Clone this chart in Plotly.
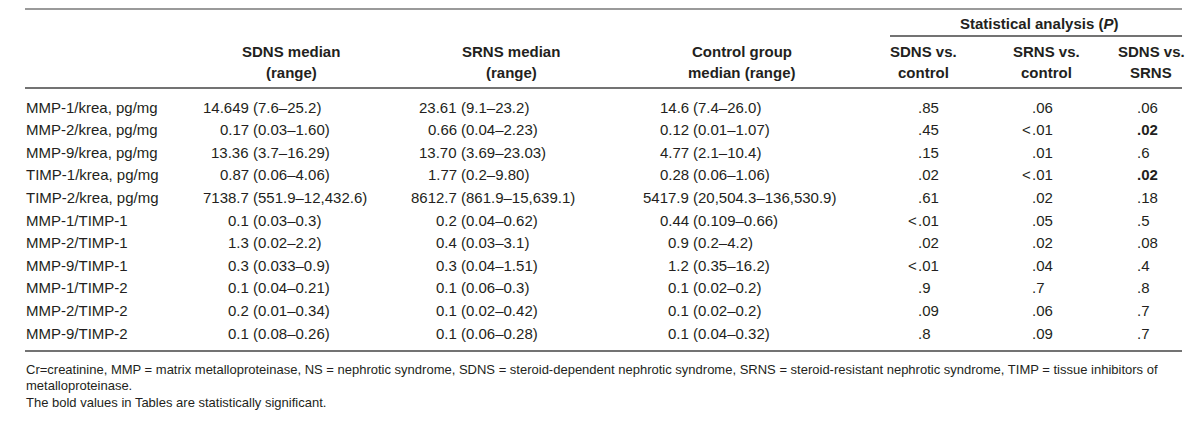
import plotly.graph_objects as go

# ---------------- data ----------------
row_labels = ["MMP-1/krea, pg/mg", "MMP-2/krea, pg/mg", "MMP-9/krea, pg/mg", "TIMP-1/krea, pg/mg",
              "TIMP-2/krea, pg/mg", "MMP-1/TIMP-1", "MMP-2/TIMP-1", "MMP-9/TIMP-1",
              "MMP-1/TIMP-2", "MMP-2/TIMP-2", "MMP-9/TIMP-2"]
sdns_median = ["14.649", "0.17", "13.36", "0.87", "7138.7", "0.1", "1.3", "0.3", "0.1", "0.2", "0.1"]
sdns_range = ["7.6–25.2", "0.03–1.60", "3.7–16.29", "0.06–4.06", "551.9–12,432.6", "0.03–0.3",
              "0.02–2.2", "0.033–0.9", "0.04–0.21", "0.01–0.34", "0.08–0.26"]
srns_median = ["23.61", "0.66", "13.70", "1.77", "8612.7", "0.2", "0.4", "0.3", "0.1", "0.1", "0.1"]
srns_range = ["9.1–23.2", "0.04–2.23", "3.69–23.03", "0.2–9.80", "861.9–15,639.1", "0.04–0.62",
              "0.03–3.1", "0.04–1.51", "0.06–0.3", "0.02–0.42", "0.06–0.28"]
ctrl_median = ["14.6", "0.12", "4.77", "0.28", "5417.9", "0.44", "0.9", "1.2", "0.1", "0.1", "0.1"]
ctrl_range = ["7.4–26.0", "0.01–1.07", "2.1–10.4", "0.06–1.06", "20,504.3–136,530.9", "0.109–0.66",
              "0.2–4.2", "0.35–16.2", "0.02–0.2", "0.02–0.2", "0.04–0.32"]
p_sdns_vs_ctrl = [".85", ".45", ".15", ".02", ".61", "<.01", ".02", "<.01", ".9", ".09", ".8"]
p_srns_vs_ctrl = [".06", "<.01", ".01", "<.01", ".02", ".05", ".02", ".04", ".7", ".06", ".09"]
p_sdns_vs_srns = [".06", ".02", ".6", ".02", ".18", ".5", ".08", ".4", ".8", ".7", ".7"]
p_sdns_vs_srns_bold = [False, True, False, True, False, False, False, False, False, False, False]

header_group = "Statistical analysis (<i>P</i>)"
col_headers = ["SDNS median<br>(range)", "SRNS median<br>(range)", "Control group<br>median (range)",
               "SDNS vs.<br>control", "SRNS vs.<br>control", "SDNS vs.<br>SRNS"]
footnotes = [
    "Cr=creatinine, MMP = matrix metalloproteinase, NS = nephrotic syndrome, SDNS = steroid-dependent "
    "nephrotic syndrome, SRNS = steroid-resistant nephrotic syndrome, TIMP = tissue inhibitors of",
    "metalloproteinase.",
    "The bold values in Tables are statistically significant.",
]

# ---------------- layout constants ----------------
FONT = "Liberation Sans, Arial, sans-serif"
INK = "#231f20"
SIZE = 15
ROW_Y0 = 99
ROW_STEP = 22.6
LABEL_X = 18
MED_COLS = [(241, 245), (449, 453), (681, 685)]   # (median right edge, range left edge)
P_COLS = [910, 1024, 1129]                          # decimal point position
HEAD_X = [283, 503, 734, 915, 1038, 1143]

fig = go.Figure()
fig.update_layout(
    width=1200, height=421,
    margin=dict(l=0, r=0, t=0, b=0),
    paper_bgcolor="white", plot_bgcolor="white",
    xaxis=dict(range=[0, 1200], visible=False, fixedrange=True),
    yaxis=dict(range=[421, 0], visible=False, fixedrange=True),
    showlegend=False,
)


def txt(x, y, s, anchor="left", size=SIZE, bold=False):
    if bold:
        s = "<b>" + s + "</b>"
    fig.add_annotation(x=x, y=y, xref="x", yref="y", text=s, showarrow=False,
                       xanchor=anchor, yanchor="middle", borderpad=0, borderwidth=0,
                       font=dict(family=FONT, size=size, color=INK))


# rules
fig.add_shape(type="line", xref="x", yref="y", x0=17, x1=1174, y0=1, y1=1,
              line=dict(color="#9a9a9a", width=2))
fig.add_shape(type="line", xref="x", yref="y", x0=882, x1=1174, y0=28, y1=28,
              line=dict(color="#444444", width=1.5))
fig.add_shape(type="line", xref="x", yref="y", x0=17, x1=1174, y0=80, y1=80,
              line=dict(color="#444444", width=1.5))
fig.add_shape(type="line", xref="x", yref="y", x0=17, x1=1174, y0=343, y1=343,
              line=dict(color="#444444", width=1.5))

# headers
txt(1031, 15, header_group, anchor="center", bold=True)
for hx, h in zip(HEAD_X, col_headers):
    top, bot = h.split("<br>")
    txt(hx, 43, top, anchor="center", bold=True)
    txt(hx, 64, bot, anchor="center", bold=True)

# body
med_cols = [(sdns_median, sdns_range), (srns_median, srns_range), (ctrl_median, ctrl_range)]
p_cols = [p_sdns_vs_ctrl, p_srns_vs_ctrl, p_sdns_vs_srns]
for i, lab in enumerate(row_labels):
    y = ROW_Y0 + i * ROW_STEP
    txt(LABEL_X, y, lab)
    for (xm, xr), (meds, rngs) in zip(MED_COLS, med_cols):
        txt(xm, y, meds[i], anchor="right")
        txt(xr, y, "(" + rngs[i] + ")")
    for j, (xp, vals) in enumerate(zip(P_COLS, p_cols)):
        v = vals[i]
        bold = (j == 2 and p_sdns_vs_srns_bold[i])
        if v.startswith("<"):
            txt(xp - 1.5, y, "&lt;", anchor="right")
            v = v[1:]
        txt(xp, y, v, bold=bold)

# footnotes
for k, f in enumerate(footnotes):
    txt(LABEL_X, 361 + k * 16.5, f, size=13)

fig.write_html("out.html")
